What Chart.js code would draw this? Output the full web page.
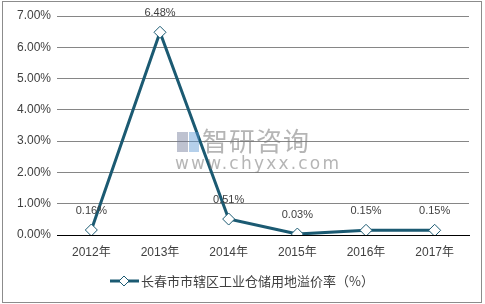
<!DOCTYPE html>
<html><head><meta charset="utf-8">
<script src="https://cdn.jsdelivr.net/npm/chart.js@4/dist/chart.umd.min.js"></script>
<style>
html,body{margin:0;padding:0;background:#fff;}
#wrap{position:relative;width:485px;height:304px;}
canvas{display:block;}
.wm{position:absolute;color:rgba(120,120,120,0.55);font-family:"Noto Sans CJK SC","Noto Sans",sans-serif;pointer-events:none;}
</style></head>
<body>
<div id="wrap">
<canvas id="c" width="485" height="304"></canvas>
<div class="wm" style="left:177px;top:132px;width:22px;height:20px;">
  <div style="position:absolute;left:0;top:0;width:11px;height:20px;background:rgba(110,120,150,0.45);"></div>
  <div style="position:absolute;left:12px;top:0;width:10px;height:20px;background:rgba(90,150,210,0.45);"></div>
</div>
<div class="wm" style="left:202px;top:125px;font-size:26px;line-height:30px;letter-spacing:1px;">智研咨询</div>
<div class="wm" style="left:175px;top:153px;font-size:17px;line-height:20px;letter-spacing:2.2px;font-family:'DejaVu Sans',sans-serif;">www.chyxx.com</div>
</div>
<script>
const categories = ["2012年","2013年","2014年","2015年","2016年","2017年"];
const values = [0.16, 6.48, 0.51, 0.03, 0.15, 0.15];
const labels = ["0.16%","6.48%","0.51%","0.03%","0.15%","0.15%"];
const seriesName = "长春市市辖区工业仓储用地溢价率（%）";
const lineColor = "#1B5A72";
const font = "'Liberation Sans', Arial, 'Noto Sans CJK SC', sans-serif";

const extras = {
  id: 'extras',
  afterDatasetsDraw(chart) {
    const ctx = chart.ctx;
    const meta = chart.getDatasetMeta(0);
    ctx.save();
    ctx.font = "11px " + font;
    ctx.fillStyle = "#404040";
    ctx.textAlign = "center";
    ctx.textBaseline = "middle";
    meta.data.forEach((pt, i) => {
      ctx.fillText(labels[i], pt.x, pt.y - 19);
    });
    // legend
    const ly = 281;
    ctx.strokeStyle = lineColor;
    ctx.lineWidth = 3;
    ctx.beginPath(); ctx.moveTo(110, ly); ctx.lineTo(139, ly); ctx.stroke();
    ctx.fillStyle = "#fff";
    ctx.lineWidth = 1;
    ctx.beginPath();
    ctx.moveTo(124, ly - 5); ctx.lineTo(129, ly); ctx.lineTo(124, ly + 5); ctx.lineTo(119, ly); ctx.closePath();
    ctx.fill(); ctx.stroke();
    ctx.fillStyle = "#404040";
    ctx.font = "13px 'Noto Sans CJK SC', sans-serif";
    ctx.textAlign = "left";
    ctx.fillText(seriesName, 141, ly);
    // border
    ctx.strokeStyle = "#8c8c8c";
    ctx.lineWidth = 1;
    ctx.strokeRect(2.5, 1.5, 479, 301);
    ctx.restore();
  }
};

new Chart(document.getElementById('c'), {
  type: 'line',
  data: {
    labels: categories,
    datasets: [{
      label: seriesName,
      data: values,
      borderColor: lineColor,
      borderWidth: 3,
      tension: 0,
      pointStyle: 'rectRot',
      pointRadius: 6,
      pointHoverRadius: 6,
      pointBackgroundColor: '#ffffff',
      pointBorderColor: lineColor,
      pointBorderWidth: 1
    }]
  },
  options: {
    responsive: false,
    animation: false,
    devicePixelRatio: 1,
    layout: { padding: { left: 0, right: 16, top: 16, bottom: 45 } },
    plugins: { legend: { display: false }, tooltip: { enabled: false } },
    scales: {
      x: {
        offset: true,
        afterFit(s) { s.height = 24; },
        grid: { display: false, drawTicks: false },
        border: { color: '#000000', width: 1 },
        ticks: { color: '#404040', font: { size: 12, family: font }, padding: 10 }
      },
      y: {
        min: 0, max: 7,
        afterFit(s) { s.width = 57; },
        grid: { color: '#868686', drawTicks: false },
        border: { display: false },
        ticks: { stepSize: 1, color: '#404040', font: { size: 12, family: font }, padding: 6,
          callback: v => v.toFixed(2) + '%' }
      }
    }
  },
  plugins: [extras]
});
</script>
</body></html>
